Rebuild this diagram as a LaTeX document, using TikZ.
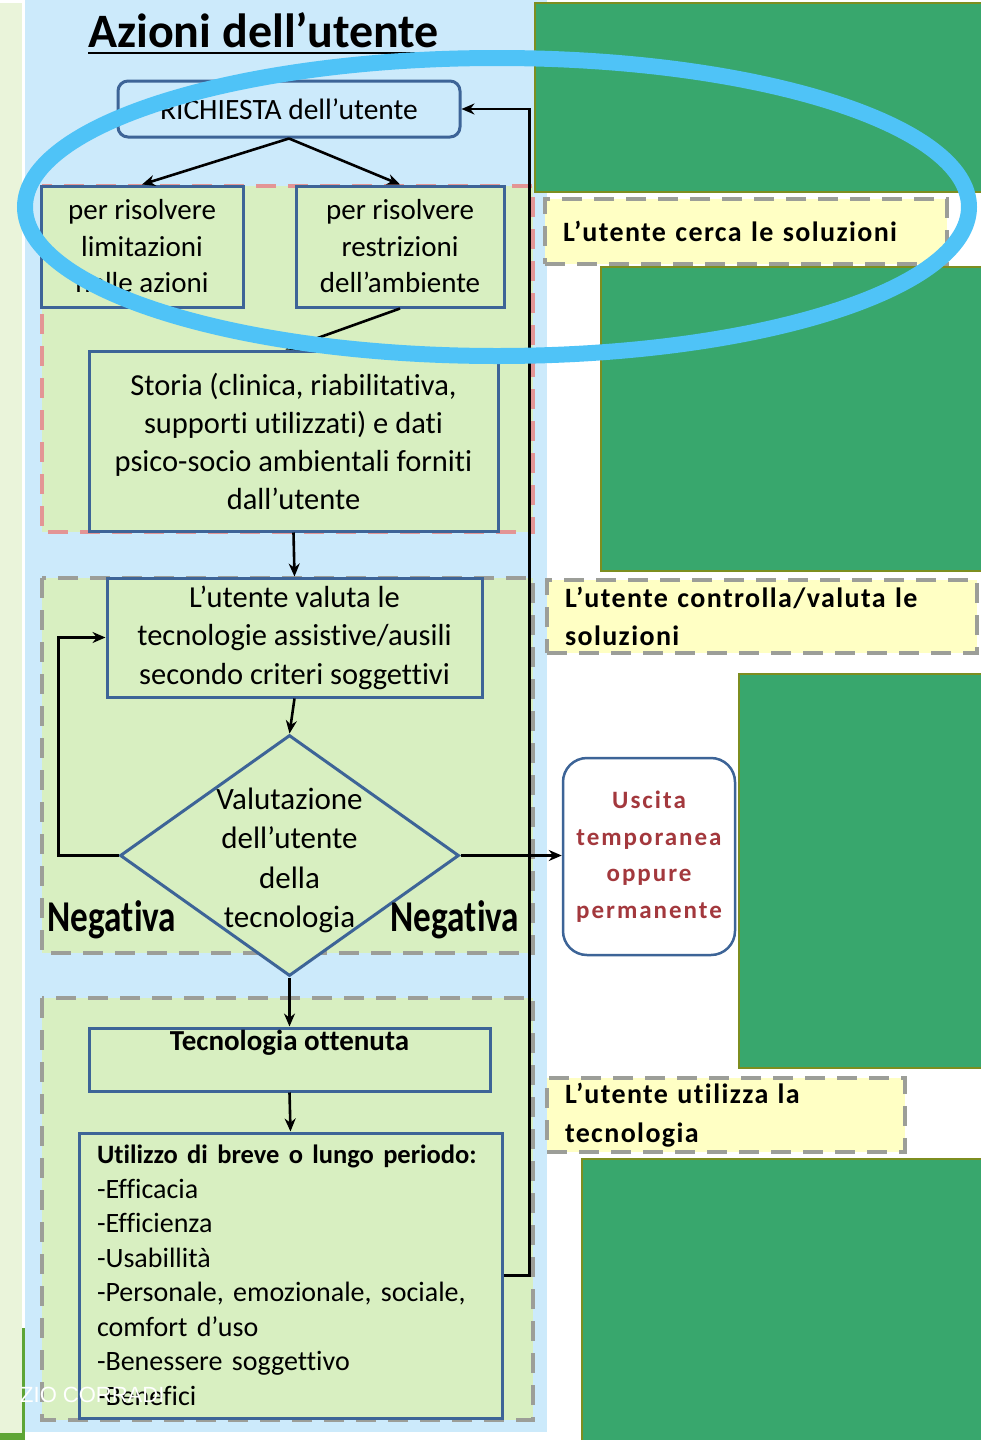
\documentclass[tikz,border=0pt]{standalone}
\usepackage{fontspec}
\setmainfont{Carlito}[Ligatures=NoCommon]
\newfontfamily\labfont{Carlito}[LetterSpace=5,Ligatures=NoCommon]
\newfontfamily\exitfont{Carlito}[LetterSpace=8,Ligatures=NoCommon]
\newfontfamily\markfont{Liberation Sans}
\usetikzlibrary{arrows.meta,shapes.geometric,calc}

\definecolor{panelblue}{HTML}{CCEAFB}
\definecolor{zonegreen}{HTML}{D8EFC1}
\definecolor{boxblue}{HTML}{3D6497}
\definecolor{zonegray}{HTML}{9C9E98}
\definecolor{zonepink}{HTML}{E39595}
\definecolor{notefill}{HTML}{FFFFC4}
\definecolor{blockgreen}{HTML}{38A76D}
\definecolor{blockedge}{HTML}{7D8E20}
\definecolor{stripgreen}{HTML}{EAF4DA}
\definecolor{bargreen}{HTML}{5EA535}
\definecolor{ringblue}{HTML}{4FC3F7}
\definecolor{exitred}{HTML}{A3383D}

\tikzset{
  zone/.style={fill=zonegreen, draw=zonegray, line width=4pt, dash pattern=on 20pt off 12pt},
  block/.style={fill=blockgreen, draw=blockedge, line width=2pt},
  fbox/.style={draw=boxblue, line width=3pt, fill=zonegreen, align=center, inner sep=0pt},
  note/.style={fill=notefill, draw=zonegray, line width=4pt, dash pattern=on 20pt off 12pt,
    anchor=north west, align=left, inner xsep=18pt, inner ysep=0pt,
    font=\labfont\bfseries\fontsize{28}{38.5}\selectfont},
  arr/.style={-{Stealth[length=13pt,width=11pt]}, line width=2.6pt, black},
  negword/.style={anchor=base, inner sep=0pt, font=\bfseries\fontsize{44}{48}\selectfont}
}

\begin{document}
\begin{tikzpicture}[x=1pt,y=-1pt]
\useasboundingbox (0,0) rectangle (981,1440);
\fill[white] (0,0) rectangle (981,1440);

% side strip and main panel
\fill[stripgreen] (0,3) rectangle (22,1440);
\fill[bargreen] (22,1328) rectangle (24.5,1440);
\fill[bargreen] (0,1433) rectangle (24.5,1440);
\fill[panelblue] (25,0) rectangle (547,1432);

% phase zones
\draw[zone, draw=zonepink] (42,186) rectangle (533,532);
\draw[zone] (42,578) rectangle (533,953);
\draw[zone] (42,998) rectangle (533,1420);

% right-hand blocks
\draw[block] (535,3) rectangle (990,192);
\draw[block] (601,267) rectangle (990,571);
\draw[block] (739,674) rectangle (990,1068);
\draw[block] (582,1159) rectangle (990,1450);

% phase notes
\node[note, minimum width=402pt, minimum height=65pt, text width=366pt] (n1) at (543,197)
  {L’utente cerca le soluzioni};
\node[note, minimum width=430pt, minimum height=73pt, text width=394pt] (n2) at (545,578)
  {L’utente controlla/valuta le\\soluzioni};
\node[note, minimum width=358pt, minimum height=74pt, text width=322pt] (n3) at (545,1076)
  {L’utente utilizza la\\tecnologia};

% title
\node[anchor=base west, inner sep=0pt, font=\bfseries\fontsize{48}{52}\selectfont] (title) at (88,47)
  {Azioni dell’utente};
\draw[line width=2.5pt] ([yshift=-6pt]title.base west) -- ([yshift=-6pt]title.base east);

% flowchart
\node[fbox, rounded corners=10pt, fill=panelblue, minimum width=342pt, minimum height=56pt,
  font=\fontsize{29.5}{35}\selectfont] (rich) at (289,109) {RICHIESTA dell’utente};
\node[fbox, minimum width=202pt, minimum height=121pt, font=\fontsize{29}{36.5}\selectfont]
  (lim) at (142,246.5) {per risolvere\\limitazioni\\nelle azioni};
\node[fbox, minimum width=208pt, minimum height=121pt, font=\fontsize{29}{36.5}\selectfont]
  (res) at (400,246.5) {per risolvere\\restrizioni\\dell’ambiente};
\node[fbox, minimum width=409pt, minimum height=180pt, font=\fontsize{30.5}{38}\selectfont]
  (sto) at (293.5,441) {Storia (clinica, riabilitativa,\\supporti utilizzati) e dati\\psico-socio ambientali forniti\\dall’utente};
\node[fbox, minimum width=375pt, minimum height=119pt, font=\fontsize{30.5}{38.5}\selectfont]
  (val) at (294.5,637.5) {L’utente valuta le\\tecnologie assistive/ausili\\secondo criteri soggettivi};
\node[fbox, diamond, minimum width=339pt, minimum height=241pt,
  label={[align=center, yshift=-5pt, font=\fontsize{31}{39.3}\selectfont]center:Valutazione\\dell’utente\\della\\tecnologia}]
  (dia) at (289.5,855.5) {};
\node[negword] (negl) at (112,931) {\scalebox{0.8}[1]{Negativa}};
\node[negword] (negr) at (455,931) {\scalebox{0.8}[1]{Negativa}};
\node[fbox, minimum width=401pt, minimum height=63pt,
  label={[anchor=north, inner sep=0pt, yshift=-3pt, font=\bfseries\fontsize{29}{33}\selectfont]north:Tecnologia ottenuta}]
  (tec) at (289.5,1059.5) {};
\node[fbox, minimum width=423pt, minimum height=285pt, text width=387pt, align=left,
  inner xsep=18pt, font=\fontsize{28}{34.5}\selectfont]
  (uti) at (290.5,1275.5) {{\bfseries\fontsize{26.5}{34.5}\selectfont Utilizzo di breve o lungo periodo:}\\-Efficacia\\-Efficienza\\-Usabillità\\-Personale, emozionale, sociale,\\comfort d’uso\\-Benessere soggettivo\\-Benefici};

\node[draw=boxblue, line width=2.5pt, fill=white, rounded corners=24pt, minimum width=172pt,
  minimum height=197pt, align=center, inner sep=0pt, text=exitred,
  font=\exitfont\bfseries\fontsize{25}{36.5}\selectfont]
  (usc) at (649,856.5) {Uscita\\temporanea\\oppure\\permanente};

% connectors
\draw[arr] (rich.south) -- (lim.north);
\draw[arr] (rich.south) -- (res.north);
\draw[arr] (res.south) -- ([xshift=-8pt]sto.north);
\draw[arr] (sto.south) -- (val.north);
\draw[arr] (val.south) -- (dia.north);
\draw[arr] (dia.west) -- ++(-60,0) |- (val.west);
\draw[arr] (dia.east) -- (usc.west |- dia.east);
\draw[arr] (dia.south) -- (tec.north);
\draw[arr] (tec.south) -- (uti.north);
\draw[arr] (uti.east) -- ++(26,0) |- (rich.east);

% author mark
\node[anchor=base west, inner sep=0pt, text=white, font=\markfont\fontsize{22}{24}\selectfont]
  (mark) at (20,1402) {ZIO CORRADI};

% highlight ring
\draw[ringblue, line width=16pt] (497,207) ellipse [x radius=472, y radius=149];
\end{tikzpicture}
\end{document}
